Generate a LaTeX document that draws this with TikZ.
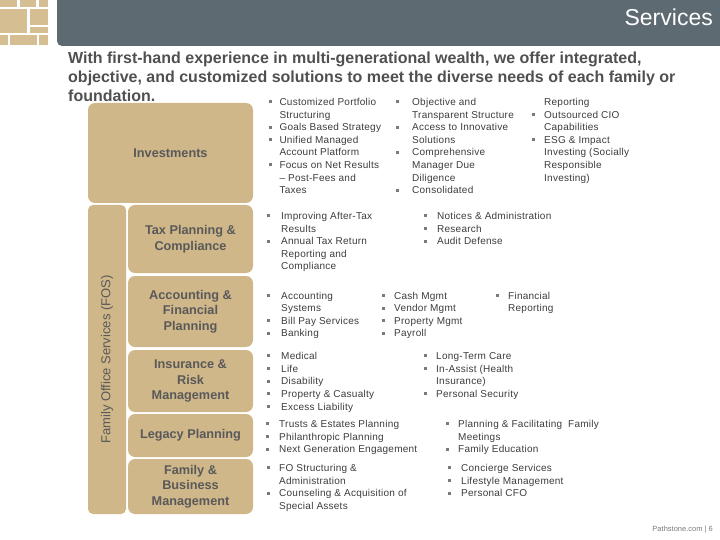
\documentclass[tikz,border=0pt]{standalone}
\usepackage{fontspec}
\setmainfont{Liberation Sans}
\newfontfamily\spacedfont[LetterSpace=2.5]{Liberation Sans}

\definecolor{fostan}{HTML}{CFB78A}
\definecolor{tilecol}{HTML}{D5BE92}
\definecolor{slate}{HTML}{5E6A71}
\definecolor{labelgray}{HTML}{595959}
\definecolor{textgray}{HTML}{3C3C3C}
\definecolor{dotgray}{HTML}{7A7A7A}

\newcommand{\sqbullet}{\textcolor{dotgray}{\rule[2.2pt]{3pt}{3pt}}}
\newcommand{\bcol}[2]{\begin{tabular}[t]{@{}l@{\hspace{#1}}l@{}}#2\end{tabular}}

\begin{document}
\begin{tikzpicture}[
    x=1pt,
    y=-1pt,
    box/.style={fill=fostan, rounded corners=7pt, inner sep=0pt, align=center,
        font=\fontsize{12.7}{15.5}\selectfont\bfseries, text=labelgray},
    blist/.style={anchor=base west, inner sep=0pt,
        font=\spacedfont\fontsize{10}{12.6}\selectfont, text=textgray}
]
\useasboundingbox (0,0) rectangle (720,540);

% 1. Logo tiles and title bar
\foreach \xa/\ya/\xb/\yb in {0/0/17/7, 20/0/36/7, 39/0/48/7,
    0/9/27/33, 30/9/48/25, 30/27/48/33, 0/35/8/45, 10/35/37/45, 39/35/48/45}
    \fill[tilecol] (\xa,\ya) rectangle (\xb,\yb);
\fill[slate, rounded corners=5pt] (57,-10) rectangle (730,46);
\node[anchor=east, inner sep=0pt, text=white, font=\fontsize{23}{26}\selectfont] (title) at (713,17) {Services};

% 2. Intro text
\node[anchor=base west, inner sep=0pt, text=textgray!90!white, font=\fontsize{16}{19}\selectfont\bfseries] (intro) at (68,63.8)
    {\begin{tabular}[t]{@{}l@{}}
    With first-hand experience in multi-generational wealth, we offer integrated,\\
    objective, and customized solutions to meet the diverse needs of each family or\\
    foundation.
    \end{tabular}};

% 3. Service boxes
\node[box, minimum width=165pt, minimum height=100pt] (inv) at (170.5,153) {Investments};
\node[box, rounded corners=5pt, minimum width=309pt, minimum height=38pt, rotate=90,
    font=\fontsize{13}{15}\selectfont\mdseries] (fos) at (107,359.5) {Family Office Services (FOS)};
\node[box, minimum width=125pt, minimum height=68pt] (tax) at (190.5,239) {Tax Planning \&\\Compliance};
\node[box, minimum width=125pt, minimum height=71pt] (acct) at (190.5,311.5) {Accounting \&\\Financial\\Planning};
\node[box, minimum width=125pt, minimum height=62pt] (ins) at (190.5,381) {Insurance \&\\Risk\\Management};
\node[box, minimum width=125pt, minimum height=43pt] (leg) at (190.5,435.5) {Legacy Planning};
\node[box, minimum width=125pt, minimum height=55pt] (fam) at (190.5,486.5) {Family \&\\Business\\Management};

% 4. Bullet lists
% Investments
\node[blist] (inv1) at (268.5,105.6) {\bcol{7.8pt}{
    \sqbullet & Customized Portfolio\\ & Structuring\\
    \sqbullet & Goals Based Strategy\\
    \sqbullet & Unified Managed\\ & Account Platform\\
    \sqbullet & Focus on Net Results\\ & – Post-Fees and\\ & Taxes}};
\node[blist] (inv2) at (395.5,105.6) {\bcol{13.5pt}{
    \sqbullet & Objective and\\ & Transparent Structure\\
    \sqbullet & Access to Innovative\\ & Solutions\\
    \sqbullet & Comprehensive\\ & Manager Due\\ & Diligence\\
    \sqbullet & Consolidated}};
\node[blist] (inv3) at (531.5,105.6) {\bcol{9.5pt}{
    & Reporting\\
    \sqbullet & Outsourced CIO\\ & Capabilities\\
    \sqbullet & ESG \& Impact\\ & Investing (Socially\\ & Responsible\\ & Investing)}};

% Tax
\node[blist] (tax1) at (266.5,219.6) {\bcol{11.5pt}{
    \sqbullet & Improving After-Tax\\ & Results\\
    \sqbullet & Annual Tax Return\\ & Reporting and\\ & Compliance}};
\node[blist] (tax2) at (423.5,219.6) {\bcol{10.5pt}{
    \sqbullet & Notices \& Administration\\
    \sqbullet & Research\\
    \sqbullet & Audit Defense}};

% Accounting
\node[blist] (acct1) at (266.5,299.1) {\bcol{11.5pt}{
    \sqbullet & Accounting\\ & Systems\\
    \sqbullet & Bill Pay Services\\
    \sqbullet & Banking}};
\node[blist] (acct2) at (381.5,299.1) {\bcol{9.5pt}{
    \sqbullet & Cash Mgmt\\
    \sqbullet & Vendor Mgmt\\
    \sqbullet & Property Mgmt\\
    \sqbullet & Payroll}};
\node[blist] (acct3) at (495.5,299.1) {\bcol{9.5pt}{
    \sqbullet & Financial\\ & Reporting}};

% Insurance
\node[blist] (ins1) at (266.5,359.6) {\bcol{11.5pt}{
    \sqbullet & Medical\\
    \sqbullet & Life\\
    \sqbullet & Disability\\
    \sqbullet & Property \& Casualty\\
    \sqbullet & Excess Liability}};
\node[blist] (ins2) at (423.5,359.6) {\bcol{9.5pt}{
    \sqbullet & Long-Term Care\\
    \sqbullet & In-Assist (Health\\ & Insurance)\\
    \sqbullet & Personal Security}};

% Legacy
\node[blist] (leg1) at (265.5,427.6) {\bcol{10.5pt}{
    \sqbullet & Trusts \& Estates Planning\\
    \sqbullet & Philanthropic Planning\\
    \sqbullet & Next Generation Engagement}};
\node[blist] (leg2) at (445.5,427.6) {\bcol{9.5pt}{
    \sqbullet & Planning \& Facilitating\ \ Family\\ & Meetings\\
    \sqbullet & Family Education}};

% Family & Business
\node[blist] (fam1) at (266.5,471.6) {\bcol{9.5pt}{
    \sqbullet & FO Structuring \&\\ & Administration\\
    \sqbullet & Counseling \& Acquisition of\\ & Special Assets}};
\node[blist] (fam2) at (447.5,471.6) {\bcol{10.5pt}{
    \sqbullet & Concierge Services\\
    \sqbullet & Lifestyle Management\\
    \sqbullet & Personal CFO}};

% 5. Footer
\node[anchor=east, inner sep=0pt, text=dotgray, font=\fontsize{7.5}{9}\selectfont] (foot) at (713,530) {Pathstone.com | 6};

\end{tikzpicture}
\end{document}
